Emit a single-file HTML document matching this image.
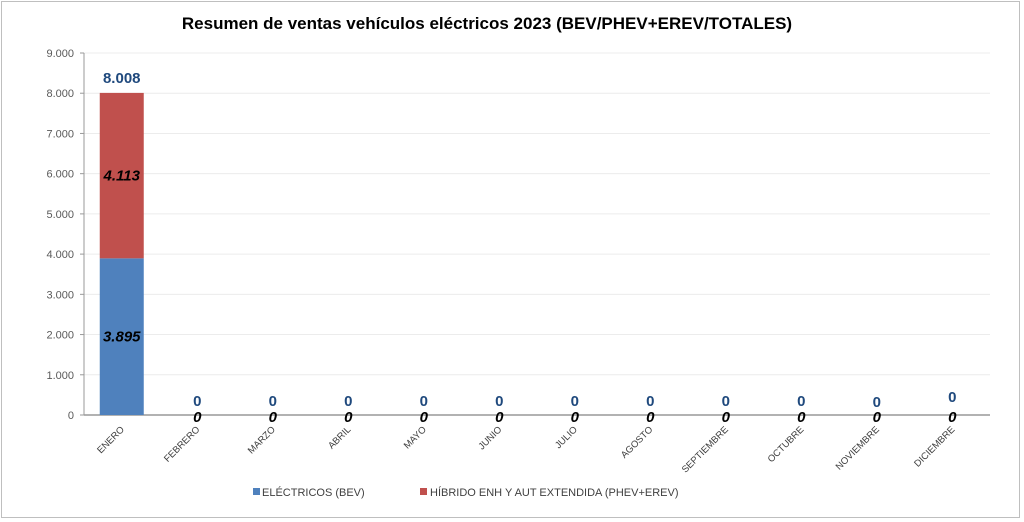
<!DOCTYPE html>
<html><head><meta charset="utf-8"><style>
html,body{margin:0;padding:0;background:#fff}
body{width:1024px;height:522px;overflow:hidden;font-family:"Liberation Sans",sans-serif}
#frame{position:absolute;left:1px;top:1px;width:1019px;height:517px;border:1px solid #bfbfbf;box-sizing:border-box}
</style></head><body>
<div id="frame"></div>
<svg id="chart" width="1024" height="522" style="position:absolute;left:0;top:0"></svg>
<script>
const categories=["ENERO","FEBRERO","MARZO","ABRIL","MAYO","JUNIO","JULIO","AGOSTO","SEPTIEMBRE","OCTUBRE","NOVIEMBRE","DICIEMBRE"];
const bev=[3895,0,0,0,0,0,0,0,0,0,0,0];
const phev=[4113,0,0,0,0,0,0,0,0,0,0,0];
const totals=[8008,0,0,0,0,0,0,0,0,0,0,0];
const yTicks=[0,1000,2000,3000,4000,5000,6000,7000,8000,9000];
const yTickLabels=["0","1.000","2.000","3.000","4.000","5.000","6.000","7.000","8.000","9.000"];
const valueLabelsBev=["3.895","0","0","0","0","0","0","0","0","0","0","0"];
const valueLabelsPhev=["4.113","0","0","0","0","0","0","0","0","0","0","0"];
const valueLabelsTot=["8.008","0","0","0","0","0","0","0","0","0","0","0"];

const NS="http://www.w3.org/2000/svg";
const svg=document.getElementById('chart');
const X0=84,X1=990,Y0=415,Y1=53,YMAX=9000;
const bw=(X1-X0)/categories.length;
const y=v=>Y0-(v/YMAX)*(Y0-Y1);
const xc=i=>X0+bw*(i+0.5);
function el(t,a,txt){const e=document.createElementNS(NS,t);for(const k in a)e.setAttribute(k,a[k]);if(txt!==undefined)e.textContent=txt;svg.appendChild(e);return e;}

let t=el('text',{x:487,y:29,'text-anchor':'middle','font-size':17,'font-weight':'bold',fill:'#000'},'Resumen de ventas vehículos eléctricos 2023 (BEV/PHEV+EREV/TOTALES)');



yTicks.forEach((v,i)=>{
  if(v>0){const g=el('line',{x1:X0,x2:X1,y1:y(v),y2:y(v),stroke:'#ececec','stroke-width':1});
  
  }
  const tk=el('line',{x1:X0-4,x2:X0,y1:y(v),y2:y(v),stroke:'#999'});
  
  
  const l=el('text',{x:X0-10,y:y(v)+4,'text-anchor':'end','font-size':11,fill:'#595959'},yTickLabels[i]);
  
  
});
const ya=el('line',{x1:X0,x2:X0,y1:Y1,y2:Y0,stroke:'#999'});



const xa=el('line',{x1:X0,x2:X1,y1:Y0,y2:Y0,stroke:'#999','stroke-width':1.5});



categories.forEach((c,i)=>{
  const cx=xc(i),w=44;
  if(bev[i]>0){const r=el('rect',{x:cx-w/2,y:y(bev[i]),width:w,height:Y0-y(bev[i]),fill:'#4f81bd'});
  
  }
  if(phev[i]>0){const r=el('rect',{x:cx-w/2,y:y(bev[i]+phev[i]),width:w,height:y(bev[i])-y(bev[i]+phev[i]),fill:'#c0504d'});
  
  }
  const isBar=bev[i]>0;
  const lb=el('text',{x:cx,y:isBar?(y(bev[i]/2)+5):y(0)+7,'text-anchor':'middle','font-size':isBar?15:15,'font-weight':'bold','font-style':'italic',fill:'#000'},valueLabelsBev[i]);
  
  
  if(isBar){const lp=el('text',{x:cx,y:y(bev[i]+phev[i]/2)+5,'text-anchor':'middle','font-size':15,'font-weight':'bold','font-style':'italic',fill:'#000'},valueLabelsPhev[i]);
  
  }
  const ty=isBar?y(totals[i])-10:(i===10?y(0)-8:(i===11?y(0)-13:y(0)-9));
  const lt=el('text',{x:cx,y:ty,'text-anchor':'middle','font-size':15,'font-weight':'bold',fill:'#1f497d'},valueLabelsTot[i]);
  
  
  const cl=el('text',{x:cx+3,y:Y0+15,'text-anchor':'end','font-size':9.5,fill:'#404040',transform:`rotate(-45 ${cx+3} ${Y0+15})`},c);
  
  
});

const l1=el('rect',{x:253,y:488,width:7,height:7,fill:'#4f81bd'});


const l1t=el('text',{x:262,y:496,'font-size':11,fill:'#404040'},'ELÉCTRICOS (BEV)');


const l2=el('rect',{x:420,y:488,width:7,height:7,fill:'#c0504d'});


const l2t=el('text',{x:430,y:496,'font-size':11,fill:'#404040'},'HÍBRIDO ENH Y AUT EXTENDIDA (PHEV+EREV)');


</script>
</body></html>
